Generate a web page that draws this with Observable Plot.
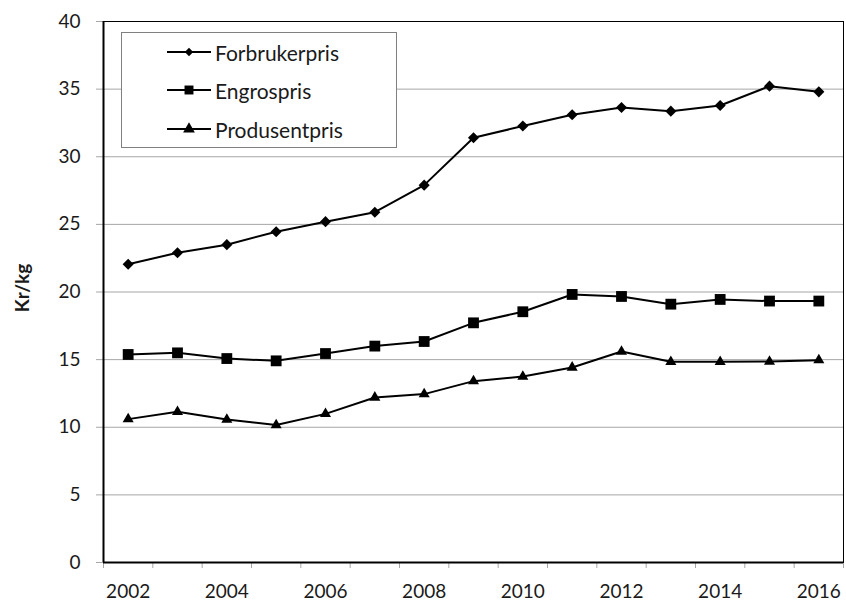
<!DOCTYPE html>
<html><head><meta charset="utf-8">
<script src="https://cdn.jsdelivr.net/npm/d3@7"></script>
<script src="https://cdn.jsdelivr.net/npm/@observablehq/plot@0.6"></script>
<style>
body{margin:0;background:#fff;}
#wrap{position:relative;width:846px;height:604px;font-family:Lato,"Open Sans",sans-serif;color:#1a1a1a;}
#ylabel{position:absolute;left:21px;top:288px;transform:translate(-50%,-50%) rotate(-90deg);font-weight:bold;font-size:19px;white-space:nowrap;}
#legend{position:absolute;left:121px;top:32px;width:274px;height:114px;border:1px solid #808080;background:#fff;}
.row{position:absolute;left:0;height:26px;display:flex;align-items:center;}
.row svg{margin-left:45px;}
.row span{margin-left:4px;font-size:21px;}
</style></head><body><div id="wrap"><div id="ylabel"></div></div>
<script>
const years = [2002,2003,2004,2005,2006,2007,2008,2009,2010,2011,2012,2013,2014,2015,2016];
const forbrukerpris = [22.05,22.9,23.5,24.45,25.2,25.9,27.9,31.4,32.27,33.1,33.64,33.37,33.79,35.22,34.8];
const engrospris = [15.38,15.5,15.08,14.91,15.45,16.0,16.34,17.72,18.54,19.82,19.67,19.1,19.45,19.33,19.33];
const produsentpris = [10.6,11.14,10.57,10.16,10.99,12.2,12.45,13.41,13.75,14.42,15.6,14.84,14.84,14.86,14.96];
const seriesNames = ["Forbrukerpris","Engrospris","Produsentpris"];
const seriesSymbols = ["diamond2","square","triangle"];
const xLabelYears = [2002,2004,2006,2008,2010,2012,2014,2016];
const yTicks = [0,5,10,15,20,25,30,35,40];
const yTitle = "Kr/kg";

const seriesValues = [forbrukerpris, engrospris, produsentpris];
const data = [];
seriesNames.forEach((s,i)=>years.forEach((yr,j)=>data.push({series:s, year:yr, value:seriesValues[i][j]})));
const bounds = d3.range(years[0]-0.5, years[years.length-1]+1, 1);
const dotR = {Forbrukerpris:5, Engrospris:6.1, Produsentpris:4.1};

const marks = [
  Plot.gridY(yTicks.slice(1), {stroke:"#a6a6a6", strokeOpacity:1, strokeWidth:1}),
  Plot.axisY(yTicks, {tickSize:7, tickPadding:16, stroke:"#a6a6a6", fill:"#1a1a1a", label:null, fontSize:19}),
  Plot.axisX(bounds, {tickSize:6, stroke:"#a6a6a6", tickFormat:()=>"", label:null}),
  Plot.axisX(xLabelYears, {tickSize:0, tickPadding:22, tickFormat:d=>String(d), fill:"#1a1a1a", label:null, fontSize:19}),
  Plot.frame({stroke:"black", strokeWidth:1}),
  Plot.ruleX([bounds[0]], {stroke:"black", strokeWidth:2}),
  Plot.ruleY([0], {stroke:"black", strokeWidth:2})
];
seriesNames.forEach((s,i)=>{
  const sub = data.filter(d=>d.series===s);
  marks.push(Plot.line(sub, {x:"year", y:"value", stroke:"black", strokeWidth:2}));
  marks.push(Plot.dot(sub, {x:"year", y:"value", symbol:()=>seriesSymbols[i], fill:"black", stroke:"none", r:dotR[s]}));
});

const chart = Plot.plot({
  width:846, height:604,
  marginLeft:103, marginRight:3, marginTop:21, marginBottom:42,
  style:{fontFamily:"Lato, 'Open Sans', sans-serif", fontSize:"19px", color:"#1a1a1a", background:"white"},
  x:{type:"linear", domain:[bounds[0], bounds[bounds.length-1]]},
  y:{domain:[0,40]},
  symbol:{type:"identity"},
  marks
});
const wrap = document.getElementById("wrap");
wrap.insertBefore(chart, wrap.firstChild);
document.getElementById("ylabel").textContent = yTitle;

// legend
const legend = document.createElement("div");
legend.id = "legend";
const rowTops = [19,57,96];
const legSize = {diamond2:45, square:80, triangle:60};
const d3sym = {diamond2:d3.symbolDiamond2, square:d3.symbolSquare, triangle:d3.symbolTriangle};
seriesNames.forEach((s,i)=>{
  const row = document.createElement("div");
  row.className = "row";
  row.style.top = (rowTops[i]-13)+"px";
  const sym = seriesSymbols[i];
  const path = d3.symbol(d3sym[sym], legSize[sym])();
  row.innerHTML = `<svg width="44" height="16" viewBox="0 0 44 16"><line x1="0" x2="44" y1="8" y2="8" stroke="black" stroke-width="2"/><path d="${path}" transform="translate(22,8)" fill="black"/></svg><span>${s}</span>`;
  legend.appendChild(row);
});
wrap.appendChild(legend);
</script>
</body></html>
